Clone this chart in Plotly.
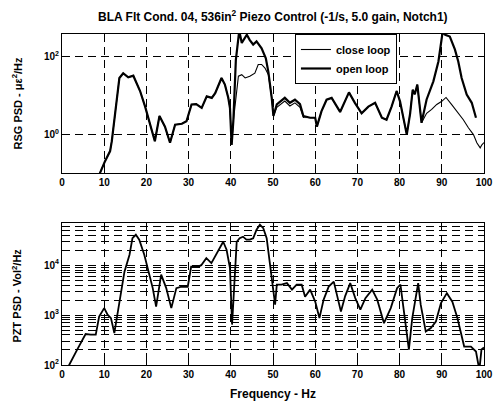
import plotly.graph_objects as go

# ---------------- data ----------------
freq_close = [8.6, 9.0, 10.2, 11.4, 11.8, 12.6, 13.6, 14.5, 15.7, 16.9, 18.5, 19.7, 20.5, 22.0, 23.1,
              24.4, 25.6, 26.8, 28.4, 29.5, 30.7, 31.8, 33.1, 34.3, 35.5, 36.3, 37.8, 38.6, 39.4, 39.8,
              40.2, 40.6, 41.8, 42.6, 43.4, 44.5, 45.7, 46.5, 47.3, 48.1, 48.9, 49.7, 50.1, 50.9, 52.8,
              54.0, 55.2, 56.4, 57.2, 58.8, 60.0, 60.4, 61.5, 62.7, 63.9, 65.9, 68.0, 69.4, 71.0, 72.6,
              74.2, 75.8, 76.9, 78.1, 79.3, 80.1, 80.9, 81.7, 82.5, 83.1, 83.6, 84.2, 85.2, 86.4, 87.6,
              88.8, 90.0, 91.0, 92.3, 93.5, 95.1, 96.3, 97.5, 98.3, 99.1, 99.5, 100.0]
psd_close = [0.063, 0.105, 0.21, 0.38, 0.68, 3.2, 28, 37, 29, 32, 13, 5.2, 2.7, 0.68, 3.0,
             1.6, 0.62, 1.8, 1.9, 2.2, 5.9, 6.0, 4.8, 9.5, 8.7, 11.5, 28, 19, 8.7, 4.8,
             0.55, 2.2, 31, 34, 28, 31, 37, 62, 62, 50, 34, 8.7, 3.0, 5.0, 7.2,
             5.4, 6.5, 5.0, 2.75, 2.7, 2.7, 1.6, 4.0, 7.8, 8.7, 3.8, 12, 6.5, 3.5, 5.2,
             6.5, 2.7, 2.4, 5.2, 13, 7.1, 2.7, 1.0, 3.5, 14, 10.7, 19, 2.0, 3.5, 4.4,
             5.9, 7.1, 8.9, 5.9, 4.0, 2.4, 1.5, 1.0, 0.62, 0.46, 0.55, 0.63]

freq_open = [8.6, 9.0, 10.2, 11.4, 11.8, 12.6, 13.6, 14.5, 15.7, 16.9, 18.5, 19.7, 20.5, 22.0, 23.1,
             24.4, 25.6, 26.8, 28.4, 29.5, 30.7, 31.8, 33.1, 34.3, 35.5, 36.3, 37.8, 38.6, 39.4, 39.8,
             40.2, 40.6, 41.2, 42.0, 42.6, 43.8, 44.5, 45.3, 46.1, 47.3, 48.3, 48.9, 49.7, 50.1, 50.9,
             52.8, 54.0, 55.2, 56.4, 57.2, 58.8, 60.0, 60.4, 61.5, 62.7, 63.9, 65.9, 68.0, 69.4, 71.0,
             72.6, 74.2, 75.8, 76.9, 78.1, 79.3, 80.1, 80.9, 81.7, 82.5, 83.1, 83.6, 84.2, 85.2, 86.4,
             88.0, 89.2, 90.2, 90.8, 91.9, 93.1, 93.9, 94.7, 95.9, 97.1, 98.1]
psd_open = [0.063, 0.105, 0.21, 0.38, 0.68, 3.2, 28, 37, 29, 32, 13, 5.2, 2.7, 0.68, 3.0,
            1.6, 0.62, 1.8, 1.9, 2.2, 5.9, 6.0, 4.8, 9.5, 8.7, 11.5, 28, 19, 8.7, 4.8,
            0.55, 2.2, 81, 450, 220, 355, 260, 200, 240, 160, 89, 40, 8.7, 3.0, 5.9,
            8.7, 6.5, 7.8, 6.0, 3.0, 2.7, 2.7, 1.6, 4.0, 7.8, 8.7, 3.8, 12, 6.5, 3.5,
            5.2, 6.5, 2.7, 2.4, 5.2, 13, 7.1, 2.7, 1.0, 3.5, 14, 10.7, 19, 2.0, 7.9,
            23, 74, 420, 355, 320, 150, 74, 28, 10.5, 6.5, 2.7]

freq_bot = [1.2, 1.7, 3.6, 5.6, 6.8, 8.0, 8.8, 10.0, 10.8, 11.6, 12.4, 13.2, 14.0, 14.8, 16.0,
            16.7, 17.5, 18.3, 19.5, 20.3, 21.5, 22.3, 23.5, 24.7, 25.9, 27.1, 28.3, 29.8, 30.6, 31.4,
            32.2, 33.0, 34.2, 35.4, 37.0, 38.2, 39.0, 39.8, 40.3, 40.8, 41.4, 42.1, 42.9, 43.7, 44.5,
            45.3, 46.1, 46.9, 47.7, 48.5, 49.3, 50.1, 50.5, 50.9, 52.0, 53.3, 54.5, 55.6, 56.8, 57.6,
            58.8, 60.0, 61.0, 62.0, 63.2, 64.4, 65.2, 66.1, 67.1, 68.3, 69.5, 70.7, 71.9, 73.5, 74.7,
            76.3, 77.9, 79.4, 80.2, 81.0, 81.8, 82.2, 83.0, 83.8, 84.4, 85.0, 86.2, 87.4, 88.6, 89.8,
            91.2, 92.5, 93.7, 95.3, 96.9, 98.1, 98.9, 99.4, 100.0]
psd_bot = [80, 100, 204, 417, 407, 407, 933, 1380, 1020, 871, 437, 1175, 2570, 7400, 16200,
           34700, 40700, 32400, 16200, 8700, 3470, 1480, 6460, 3470, 1380, 3470, 3700, 3700, 9300, 9300,
           9300, 10000, 13800, 11000, 18600, 29500, 20400, 8700, 645, 4070, 29500, 34700, 37200, 32400, 32400,
           34700, 51300, 64600, 55000, 34700, 10200, 2950, 1620, 4070, 4070, 4370, 3240, 4070, 4070, 2340,
           3240, 1860, 871, 2040, 3720, 4680, 2570, 1175, 2400, 4370, 2190, 1290, 2190, 3240, 2040,
           690, 1380, 3470, 4070, 1175, 372, 204, 871, 2190, 4370, 1620, 468, 550, 741, 1740,
           2750, 1860, 871, 234, 234, 186, 79, 204, 224]

x_ticks = [0, 10, 20, 30, 40, 50, 60, 70, 80, 90, 100]
top_yticks = [1, 100]
top_yticktext = ["10<sup>0</sup>", "10<sup>2</sup>"]
bot_decades = [100, 1000, 10000]
bot_decade_text = ["10<sup>2</sup>", "10<sup>3</sup>", "10<sup>4</sup>"]

title_text = "BLA Flt Cond. 04, 536in<sup>2</sup> Piezo Control (-1/s, 5.0 gain, Notch1)"
ylabel_top = "RSG PSD - με<sup>2</sup>/Hz"
ylabel_bot = "PZT PSD - Vol<sup>2</sup>/Hz"
xlabel_bot = "Frequency - Hz"

# minor log grid for the lower panel
bot_tickvals = []
bot_ticktext = []
for d, lab in zip(bot_decades, bot_decade_text):
    for m in range(1, 10):
        v = d * m
        if v <= 70000:
            bot_tickvals.append(v)
            bot_ticktext.append(lab if m == 1 else " ")

FONT = "Liberation Sans, Arial, sans-serif"

fig = go.Figure()
fig.add_trace(go.Scatter(x=freq_close, y=psd_close, mode="lines", name="close loop",
                         line=dict(color="black", width=1.1), xaxis="x", yaxis="y"))
fig.add_trace(go.Scatter(x=freq_open, y=psd_open, mode="lines", name="open loop",
                         line=dict(color="black", width=2.2), xaxis="x", yaxis="y"))
fig.add_trace(go.Scatter(x=freq_bot, y=psd_bot, mode="lines", showlegend=False,
                         line=dict(color="black", width=1.8), xaxis="x2", yaxis="y2"))

axis_common = dict(showline=True, mirror="ticks", linecolor="black", linewidth=1,
                   ticks="inside", ticklen=4, tickcolor="black", automargin=False,
                   showgrid=True, gridcolor="black", griddash="8px,5px", gridwidth=1,
                   zeroline=False, ticklabeloverflow="allow",
                   tickfont=dict(family=FONT, size=10, color="black", weight="bold"))

fig.update_layout(
    width=495, height=403,
    paper_bgcolor="white", plot_bgcolor="white",
    margin=dict(l=62, r=11, t=34, b=38, autoexpand=False),
    showlegend=True,
    legend=dict(x=0.552, y=1.0, xanchor="left", yanchor="top",
                bgcolor="white", bordercolor="black", borderwidth=1,
                font=dict(family=FONT, size=11, color="black", weight="bold"),
                tracegroupgap=0, itemwidth=30),
    xaxis=dict(domain=[0, 1], anchor="y", range=[0, 100], tickvals=x_ticks, **axis_common),
    yaxis=dict(domain=[0.58, 1.0], anchor="x", type="log", range=[-0.98, 2.57],
               tickvals=top_yticks, ticktext=top_yticktext, **axis_common),
    xaxis2=dict(domain=[0, 1], anchor="y2", range=[0, 100], tickvals=x_ticks, **axis_common),
    yaxis2=dict(domain=[0, 0.429], anchor="x2", type="log", range=[2, 4.845],
                tickvals=bot_tickvals, ticktext=bot_ticktext, **axis_common),
    annotations=[
        dict(text=title_text, x=0.5, y=1, xref="paper", yref="paper", xanchor="center",
             yanchor="bottom", yshift=8, showarrow=False,
             font=dict(family=FONT, size=12, color="black", weight="bold")),
        dict(text=ylabel_top, x=0, y=0.79, xref="paper", yref="paper", xanchor="center",
             yanchor="middle", xshift=-45, textangle=-90, showarrow=False,
             font=dict(family=FONT, size=11, color="black", weight="bold")),
        dict(text=ylabel_bot, x=0, y=0.21, xref="paper", yref="paper", xanchor="center",
             yanchor="middle", xshift=-45, textangle=-90, showarrow=False,
             font=dict(family=FONT, size=11, color="black", weight="bold")),
        dict(text=xlabel_bot, x=0.5, y=0, xref="paper", yref="paper", xanchor="center",
             yanchor="middle", yshift=-29, showarrow=False,
             font=dict(family=FONT, size=12, color="black", weight="bold")),
    ],
)

fig.write_html("out.html",
               config={"displayModeBar": False},
               post_script="document.body.style.margin='0';document.body.style.overflow='hidden';")
